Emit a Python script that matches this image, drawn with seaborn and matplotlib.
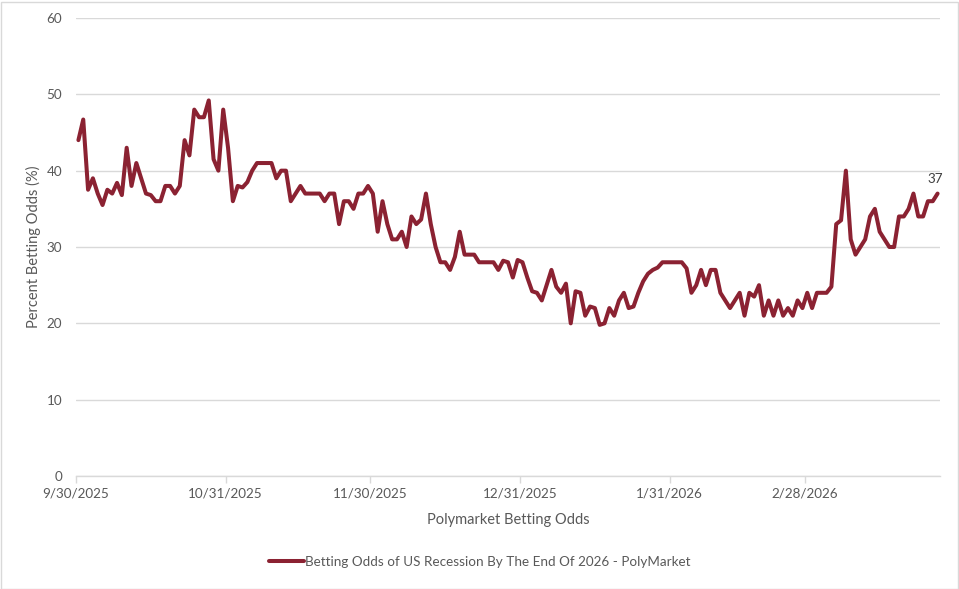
import pandas as pd
import seaborn as sns
import matplotlib.pyplot as plt
import matplotlib.dates as mdates
from matplotlib.patches import Rectangle

# daily Polymarket odds, 9/30/2025 onward (percent)
start_date = "2025-09-30"
odds = [
    44, 46.7, 37.5, 39, 37, 35.5, 37.5, 37, 38.4, 36.8,
    43, 38, 41, 39, 37, 36.8, 36, 36, 38, 38,
    37, 38, 44, 42, 48, 47, 47, 49.2, 41.5, 40,
    48, 43, 36, 38, 37.8, 38.5, 40, 41, 41, 41,
    41, 39, 40, 40, 36, 37, 38, 37, 37, 37,
    37, 36, 37, 37, 33, 36, 36, 35, 37, 37,
    38, 37, 32, 36, 33, 31, 31, 32, 30, 34,
    33, 33.6, 37, 33, 30, 28, 28, 27, 28.7, 32,
    29, 29, 29, 28, 28, 28, 28, 27, 28.2, 28,
    26, 28.3, 28, 26, 24.2, 24, 23, 25, 27, 24.8,
    24, 25.2, 20, 24.2, 24, 21, 22.2, 22, 19.8, 20,
    22, 21, 23, 24, 22, 22.2, 24, 25.5, 26.5, 27,
    27.3, 28, 28, 28, 28, 28, 27.2, 24, 25, 27,
    25, 27, 27, 24, 23, 22, 23, 24, 21, 24,
    23.5, 25, 21, 23, 21, 23, 21, 22, 21, 23,
    22, 24, 22, 24, 24, 24, 24.8, 33, 33.5, 40,
    31, 29, 30, 31, 34, 35, 32, 31, 30, 30,
    34, 34, 35, 37, 34, 34, 36, 36, 37,
]
tick_dates = ["2025-09-30", "2025-10-31", "2025-11-30", "2025-12-31", "2026-01-31", "2026-02-28"]
y_ticks = [0, 10, 20, 30, 40, 50, 60]
series_name = "Betting Odds of US Recession By The End Of 2026 - PolyMarket"

dates = pd.date_range(start_date, periods=len(odds), freq="D")
df = pd.DataFrame({"date": dates + pd.Timedelta(hours=12), "odds": odds})

sns.set_theme(style="white")
plt.rcParams["font.family"] = ["Lato", "DejaVu Sans"]

grey_txt = "#595959"
grid_c = "#d9d9d9"
line_c = "#8b2232"

fig = plt.figure(figsize=(9.59, 5.89), dpi=100)
ax = fig.add_axes([76 / 959, 113 / 589, 864 / 959, 458 / 589])

sns.lineplot(data=df, x="date", y="odds", ax=ax, color=line_c, linewidth=2.9,
             label=series_name, legend=False, solid_joinstyle="round", solid_capstyle="round")

ax.set_ylim(0, 60)
ax.set_yticks(y_ticks)
ax.set_xlim(pd.Timestamp(start_date), dates[-1] + pd.Timedelta(days=1))
ax.set_xticks(pd.to_datetime(tick_dates))
ax.xaxis.set_major_formatter(mdates.DateFormatter("%-m/%d/%Y"))

ax.grid(axis="y", color=grid_c, linewidth=1)
ax.grid(axis="x", visible=False)
for s in ["left", "right", "top"]:
    ax.spines[s].set_visible(False)
ax.spines["bottom"].set_color(grid_c)
ax.spines["bottom"].set_linewidth(1)
ax.tick_params(axis="x", colors=grey_txt, labelsize=9.7, length=5, width=1, color=grid_c,
               direction="out", bottom=True, pad=3)
ax.tick_params(axis="y", colors=grey_txt, labelsize=9.7, length=0, pad=10)

ax.set_xlabel("Polymarket Betting Odds", color=grey_txt, fontsize=10.5, labelpad=10)
ax.set_ylabel("Percent Betting Odds (%)", color=grey_txt, fontsize=10.5, labelpad=4)

# last value label
ax.annotate(f"{odds[-1]:g}", xy=(df["date"].iloc[-1], odds[-1]), xytext=(-2, 6),
            textcoords="offset points", ha="center", va="bottom", color="#404040", fontsize=9.7)

leg = fig.legend(loc="lower center", bbox_to_anchor=(0.5, 0.015), frameon=False,
                 fontsize=9.7, handlelength=2.6, handletextpad=0.1)
for t in leg.get_texts():
    t.set_color(grey_txt)

fig.patches.append(Rectangle((0.5 / 959, 0.5 / 589), 957 / 959, 587 / 589, transform=fig.transFigure,
                             fill=False, edgecolor=grid_c, linewidth=1))

fig.savefig("out.png", dpi=100)
